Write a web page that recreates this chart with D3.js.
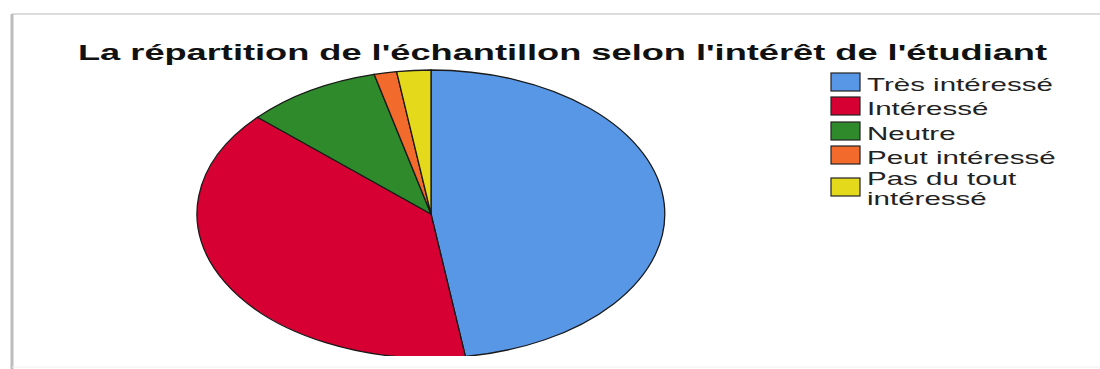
<!DOCTYPE html>
<html>
<head>
<meta charset="utf-8">
<script src="https://cdn.jsdelivr.net/npm/d3@7"></script>
<style>
  html, body { margin: 0; padding: 0; background: #fff; }
  svg { display: block; }
</style>
</head>
<body>
<svg id="chart" width="1100" height="369"></svg>
<script>
// Répartition de l'échantillon selon l'intérêt de l'étudiant (effectifs)
const categories = ["Très intéressé", "Intéressé", "Neutre", "Peut intéressé", "Pas du tout intéressé"];
const legendLines = [["Très intéressé"], ["Intéressé"], ["Neutre"], ["Peut intéressé"], ["Pas du tout", "intéressé"]];
const counts = [61, 50, 12, 2, 3];
const palette = ["#5897e6", "#d60032", "#2f8a2c", "#f26a2c", "#e4d91a"];
const titleText = "La répartition de l'échantillon selon l'intérêt de l'étudiant";

const svg = d3.select("#chart");

// panel border (soft grey frame)
const frame = svg.append("g");
frame.append("line").attr("x1", 12).attr("y1", 14).attr("x2", 1100).attr("y2", 14)
  .attr("stroke", "#dcdcdc").attr("stroke-width", 2);
frame.append("line").attr("x1", 12).attr("y1", 14).attr("x2", 12).attr("y2", 369)
  .attr("stroke", "#bdbdbd").attr("stroke-width", 3);
frame.append("line").attr("x1", 12).attr("y1", 367).attr("x2", 1100).attr("y2", 367)
  .attr("stroke", "#f0f0f0").attr("stroke-width", 1);

// title
svg.append("text")
  .attr("x", 78).attr("y", 60)
  .attr("font-family", "'Liberation Sans', Arial, sans-serif")
  .attr("font-weight", "bold")
  .attr("font-size", 22)
  .attr("fill", "#111")
  .attr("textLength", 969)
  .attr("lengthAdjust", "spacingAndGlyphs")
  .text(titleText);

// pie (unit circle stretched into an ellipse)
const cx = 431, cy = 214, rx = 234, ry = 144;
const color = d3.scaleOrdinal().domain(categories).range(palette);
const pie = d3.pie().sort(null).value(d => d.value);
const arcs = pie(categories.map((c, i) => ({ cat: c, value: counts[i] })));
const arc = d3.arc().innerRadius(0).outerRadius(1);

svg.append("defs").append("clipPath").attr("id", "pieClip")
  .append("rect").attr("x", 0).attr("y", 0).attr("width", 1100).attr("height", 356);

svg.append("g")
  .attr("clip-path", "url(#pieClip)")
  .append("g")
  .attr("transform", `translate(${cx},${cy}) scale(${rx},${ry})`)
  .selectAll("path")
  .data(arcs)
  .join("path")
  .attr("d", arc)
  .attr("fill", d => color(d.data.cat))
  .attr("stroke", "#1a1a1a")
  .attr("stroke-width", 1.3)
  .attr("vector-effect", "non-scaling-stroke");

// legend
const legend = svg.append("g");
const rowTop = [73, 97, 122, 146, 178];
legend.selectAll("rect")
  .data(categories)
  .join("rect")
  .attr("x", 831)
  .attr("y", (d, i) => rowTop[i])
  .attr("width", 29)
  .attr("height", 18)
  .attr("fill", d => color(d))
  .attr("stroke", "#222")
  .attr("stroke-width", 1.2);

const sx = 1.64;
legendLines.forEach((lines, i) => {
  const base = lines.length === 1 ? rowTop[i] + 18 : rowTop[i] + 7;
  const t = legend.append("text")
    .attr("transform", `translate(867,${base}) scale(${sx},1)`)
    .attr("font-family", "'Liberation Sans', Arial, sans-serif")
    .attr("font-size", 18)
    .attr("fill", "#222");
  lines.forEach((ln, j) => {
    t.append("tspan").attr("x", 0).attr("dy", j === 0 ? 0 : 20.5).text(ln);
  });
});
</script>
</body>
</html>
